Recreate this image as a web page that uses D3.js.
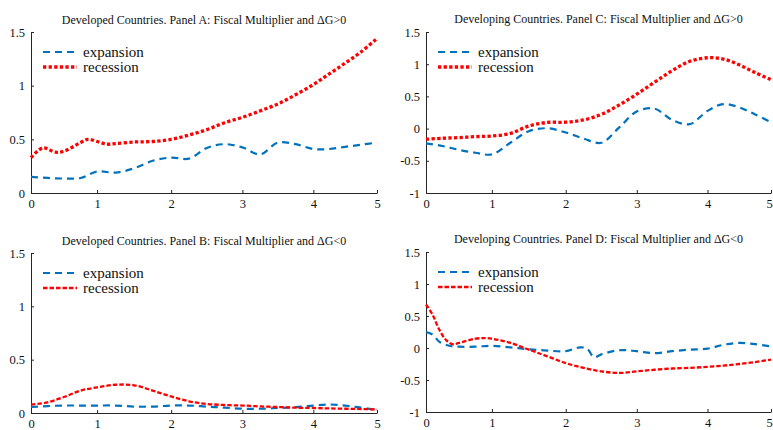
<!DOCTYPE html>
<html>
<head>
<meta charset="utf-8">
<script src="https://cdn.jsdelivr.net/npm/d3@7"></script>
<style>
  body { margin: 0; background: #fff; }
  svg { display: block; }
  svg text { font-family: "Liberation Serif", "Times New Roman", serif; }
</style>
</head>
<body>
<div id="chart"></div>
<script>
//Horizon in years, sampled quarterly//
var quarters = [0,0.25,0.5,0.75,1,1.25,1.5,1.75,2,2.25,2.5,2.75,3,3.25,3.5,3.75,4,4.25,4.5,4.75,5];
var xTicks = [0,1,2,3,4,5];
var yTicksPos = [0,0.5,1,1.5];
var yTicksAll = [-1,-0.5,0,0.5,1,1.5];
var legendNames = ["expansion", "recession"];

//Panel A: developed, dG>0//
var expA = [0.15,0.14,0.135,0.14,0.20,0.19,0.23,0.30,0.33,0.32,0.42,0.455,0.425,0.36,0.47,0.455,0.41,0.41,0.43,0.45,0.47];
var recAx = [0,0.18,0.37,0.5,0.75,0.86,1,1.13,1.25,1.5,1.75,2,2.25,2.5,2.75,3,3.25,3.5,3.75,4,4.25,4.5,4.75,5];
var recA = [0.33,0.42,0.38,0.39,0.47,0.50,0.48,0.455,0.46,0.475,0.48,0.50,0.54,0.59,0.655,0.705,0.765,0.83,0.915,1.01,1.11,1.21,1.315,1.44];

//Panel B: developed, dG<0//
var expB = [0.056,0.065,0.07,0.07,0.07,0.07,0.06,0.06,0.07,0.07,0.06,0.05,0.04,0.04,0.047,0.055,0.07,0.08,0.07,0.05,0.03];
var recB = [0.078,0.10,0.15,0.21,0.24,0.265,0.26,0.21,0.155,0.11,0.085,0.075,0.07,0.062,0.056,0.05,0.047,0.043,0.04,0.037,0.034];

//Panel C: developing, dG>0//
var expC = [-0.23,-0.27,-0.33,-0.375,-0.40,-0.22,-0.04,0.005,-0.06,-0.155,-0.22,0.015,0.265,0.31,0.135,0.07,0.275,0.38,0.33,0.22,0.10];
var recC = [-0.165,-0.15,-0.14,-0.125,-0.115,-0.075,0.04,0.095,0.10,0.135,0.22,0.365,0.535,0.72,0.90,1.045,1.10,1.08,0.99,0.87,0.76];

//Panel D: developing, dG<0//
var expDx = [0,0.1,0.2,0.35,0.5,0.75,1,1.25,1.5,1.75,2,2.2,2.3,2.4,2.5,2.75,3,3.25,3.5,3.75,4,4.25,4.5,4.75,5];
var expD = [0.25,0.21,0.10,0.035,0.02,0.02,0.035,0.01,-0.02,-0.04,-0.05,0.01,-0.01,-0.145,-0.10,-0.035,-0.05,-0.08,-0.05,-0.025,-0.01,0.05,0.08,0.06,0.025];
var recDx = [0,0.1,0.2,0.3,0.4,0.5,0.75,0.9,1,1.25,1.5,1.75,2,2.25,2.5,2.75,3,3.25,3.5,3.75,4,4.25,4.5,4.75,5];
var recD = [0.68,0.52,0.29,0.13,0.06,0.08,0.145,0.155,0.145,0.08,-0.025,-0.13,-0.235,-0.31,-0.365,-0.39,-0.365,-0.34,-0.32,-0.31,-0.295,-0.275,-0.25,-0.22,-0.18];

//The year ticks are not evenly spaced in the original, so the x scale is polylinear//
var tickFrac = [0,0.191,0.405,0.611,0.816,1];

var W = 773, H = 430;
var blue = "#0072BD", red = "#FF0000";
var serif = "'Liberation Serif', 'Times New Roman', serif";

var svg = d3.select("#chart").append("svg")
  .attr("width", W)
  .attr("height", H);

var panels = [
  {title: "Developed Countries. Panel A: Fiscal Multiplier and \u0394G>0", left: 31, right: 377, top: 32, bottom: 193, titleY: 24,
   yDomain: [0,1.5], yTicks: yTicksPos, expX: quarters, exp: expA, recX: recAx, rec: recA, dotted: true},
  {title: "Developing Countries. Panel C: Fiscal Multiplier and \u0394G>0", left: 426, right: 771, top: 32, bottom: 193, titleY: 23,
   yDomain: [-1,1.5], yTicks: yTicksAll, expX: quarters, exp: expC, recX: quarters, rec: recC, dotted: true},
  {title: "Developed Countries. Panel B: Fiscal Multiplier and \u0394G<0", left: 31, right: 377, top: 253, bottom: 413, titleY: 245,
   yDomain: [0,1.5], yTicks: yTicksPos, expX: quarters, exp: expB, recX: quarters, rec: recB, dotted: false},
  {title: "Developing Countries. Panel D: Fiscal Multiplier and \u0394G<0", left: 426, right: 771, top: 252, bottom: 412, titleY: 243,
   yDomain: [-1,1.5], yTicks: yTicksAll, expX: expDx, exp: expD, recX: recDx, rec: recD, dotted: false}
];

panels.forEach(function(p) {
  var g = svg.append("g");

  var x = d3.scaleLinear()
    .domain(xTicks)
    .range(tickFrac.map(function(f) { return p.left + f * (p.right - p.left); }));

  var y = d3.scaleLinear()
    .domain(p.yDomain)
    .range([p.bottom, p.top]);

  //Axes with inward ticks//
  var xAxis = g.append("g")
    .attr("transform", "translate(0," + p.bottom + ")")
    .call(d3.axisBottom(x).tickValues(xTicks).tickSizeInner(-3).tickSizeOuter(0).tickPadding(6.5)
      .tickFormat(function(d) { return String(d); }));

  var yAxis = g.append("g")
    .attr("transform", "translate(" + p.left + ",0)")
    .call(d3.axisLeft(y).tickValues(p.yTicks).tickSizeInner(-3).tickSizeOuter(0).tickPadding(6)
      .tickFormat(function(d) { return String(d); }));

  [xAxis, yAxis].forEach(function(a) {
    a.attr("font-family", null).attr("font-size", null);
    a.selectAll("path, line").attr("stroke", "#262626").attr("stroke-width", 1);
    a.selectAll("text")
      .attr("fill", "#111")
      .style("font-family", serif)
      .style("font-size", "12.5px");
  });

  //Last year label sits right at the page edge, pull it in a touch so it stays whole//
  xAxis.selectAll(".tick text")
    .attr("dx", function(d) { return (d === 5 && p.right > W - 5) ? -2 : 0; });

  //Title//
  g.append("text")
    .attr("x", (p.left + p.right) / 2)
    .attr("y", p.titleY)
    .attr("text-anchor", "middle")
    .style("font-family", serif)
    .style("font-size", "12px")
    .attr("fill", "#111")
    .text(p.title);

  var line = d3.line()
    .x(function(d) { return x(d[0]); })
    .y(function(d) { return y(d[1]); })
    .curve(d3.curveCatmullRom.alpha(0.5));

  var expStyle = {color: blue, width: 2.2, dash: "7,5"};
  var recStyle = p.dotted ? {color: red, width: 3.3, dash: "3.3,2.3"} : {color: red, width: 2.3, dash: "4.5,2"};

  g.append("path")
    .datum(d3.zip(p.expX, p.exp))
    .attr("d", line)
    .attr("fill", "none")
    .attr("stroke", expStyle.color)
    .attr("stroke-width", expStyle.width)
    .attr("stroke-dasharray", expStyle.dash);

  g.append("path")
    .datum(d3.zip(p.recX, p.rec))
    .attr("d", line)
    .attr("fill", "none")
    .attr("stroke", recStyle.color)
    .attr("stroke-width", recStyle.width)
    .attr("stroke-dasharray", recStyle.dash);

  //Legend//
  var legend = g.selectAll(".legend")
    .data(legendNames)
    .enter()
    .append("g")
    .attr("transform", function(d, i) {
      return "translate(" + (p.left + 12) + "," + (p.top + 20 + i * 15) + ")";
    });

  legend.append("line")
    .attr("x1", 0)
    .attr("x2", 34)
    .attr("stroke", function(d, i) { return i === 0 ? expStyle.color : recStyle.color; })
    .attr("stroke-width", function(d, i) { return i === 0 ? expStyle.width : recStyle.width; })
    .attr("stroke-dasharray", function(d, i) { return i === 0 ? expStyle.dash : recStyle.dash; });

  legend.append("text")
    .attr("x", 40)
    .attr("dy", "0.3em")
    .style("font-family", serif)
    .style("font-size", "15px")
    .attr("fill", "#111")
    .text(function(d) { return d; });
});
</script>
</body>
</html>
